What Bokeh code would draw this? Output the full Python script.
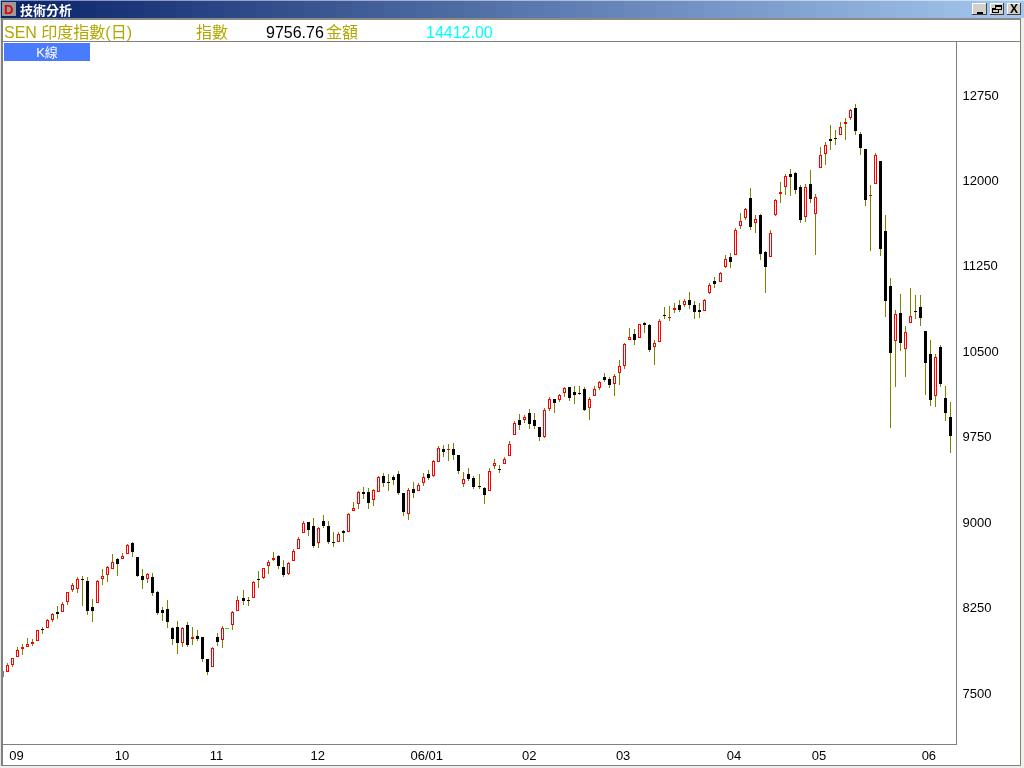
import numpy as np
from bokeh.core.properties import value
from bokeh.embed import file_html
from bokeh.layouts import column
from bokeh.models import FixedTicker, Range1d
from bokeh.plotting import figure
from bokeh.resources import INLINE

opens = [7696,7687,7749,7819,7889,7907,7933,7960,8062,8074,8144,8211,8214,8302,8407,8416,8498,8483,8255,8287,
 8504,8539,8592,8677,8674,8718,8817,8694,8527,8498,8519,8387,8229,8238,8071,8080,7936,8097,7977,8001,
 7992,7799,7725,7992,7962,8068,8094,8223,8334,8313,8336,8497,8512,8617,8670,8702,8606,8547,8661,8767,
 8907,9001,8966,8819,9010,8966,8822,8828,8922,8916,9100,9162,9264,9264,9197,9267,9402,9349,9393,9422,
 9255,9074,9291,9276,9346,9422,9408,9531,9642,9639,9642,9589,9337,9422,9387,9314,9299,9276,9495,9463,
 9507,9583,9768,9893,9899,9955,9893,9832,9750,9996,10081,10075,10136,10186,10142,10131,10169,10005,10110,10180,
 10271,10256,10215,10309,10373,10602,10651,10619,10748,10730,10540,10584,10815,10798,10865,10907,10907,10951,10907,10863,
 10857,11009,11117,11112,11240,11328,11349,11603,11673,11846,11630,11697,11372,11331,11700,11884,11946,12057,12066,11943,
 11682,11969,11708,12112,12235,12364,12370,12402,12495,12551,12636,12408,12276,11869,11972,12171,11556,11074,10594,10836,
 10523,10746,10851,10886,10678,10476,10111,10538,10090,9923]
highs = [7696,7761,7810,7904,7930,7983,7974,8056,8080,8147,8202,8264,8299,8384,8466,8521,8524,8519,8325,8489,
 8589,8615,8720,8685,8729,8808,8826,8694,8589,8551,8554,8393,8252,8317,8082,8132,8077,8123,8080,8053,
 7992,7799,7904,8027,8088,8068,8217,8352,8404,8342,8483,8571,8600,8667,8737,8708,8667,8647,8761,8869,
 9010,9001,9036,8957,9062,9010,8913,8910,8931,9080,9176,9270,9305,9299,9291,9405,9431,9422,9413,9449,
 9255,9296,9352,9343,9431,9457,9545,9668,9677,9686,9694,9589,9440,9475,9405,9422,9308,9472,9554,9501,
 9569,9709,9885,9946,9937,9990,9955,9832,9999,10098,10081,10128,10186,10186,10195,10195,10186,10098,10195,10239,
 10309,10274,10300,10423,10572,10704,10695,10736,10754,10739,10599,10783,10889,10897,10921,10951,10956,11021,10942,10924,
 10956,11100,11153,11196,11346,11363,11583,11714,11758,11934,11694,11706,11381,11565,11834,11987,12057,12101,12074,11960,
 11969,12092,11881,12293,12337,12487,12443,12513,12548,12627,12671,12425,12276,11960,12241,12171,11696,11144,10860,11003,
 10722,11056,10995,10995,10678,10599,10476,10555,10196,10055]
lows = [7638,7687,7731,7819,7837,7907,7913,7960,8018,8074,8126,8150,8208,8276,8390,8381,8264,8188,8126,8287,
 8451,8475,8592,8530,8674,8718,8697,8516,8413,8469,8355,8188,8132,8074,7924,7845,7907,7904,7924,7957,
 7775,7661,7725,7913,7898,8068,8056,8223,8272,8263,8336,8421,8500,8544,8658,8588,8518,8535,8661,8767,
 8907,8878,8773,8773,8948,8808,8781,8828,8825,8916,9100,9118,9206,9118,9144,9267,9311,9276,9323,9241,
 9056,9018,9214,9276,9320,9370,9396,9531,9574,9539,9545,9422,9308,9361,9291,9288,9159,9276,9469,9434,
 9507,9583,9768,9809,9867,9817,9820,9712,9741,9978,9958,10057,10098,10063,10037,10116,9975,9896,10110,10160,
 10230,10177,10107,10204,10344,10602,10555,10619,10660,10493,10379,10584,10783,10766,10836,10842,10889,10872,10784,10793,
 10857,11006,11056,11112,11232,11232,11349,11574,11653,11565,11539,11302,11012,11331,11691,11802,11873,11864,11881,11627,
 11635,11802,11345,12112,12135,12267,12311,12402,12355,12531,12399,12223,11775,11380,11972,11336,10801,9827,10187,10503,
 10275,10746,10784,10722,10116,10020,10011,10187,9888,9607]
closes = [7638,7743,7804,7875,7901,7927,7948,8050,8061,8138,8191,8194,8279,8384,8445,8498,8497,8223,8223,8480,
 8524,8603,8647,8636,8700,8797,8735,8530,8495,8542,8381,8205,8205,8126,7977,7942,8068,7924,7992,7977,
 7802,7687,7892,7951,8068,8068,8208,8314,8307,8312,8474,8496,8594,8647,8685,8617,8535,8638,8743,8849,
 8989,8934,8790,8945,8966,8825,8821,8893,8904,9068,9127,9261,9247,9171,9279,9393,9346,9348,9370,9258,
 9092,9279,9258,9323,9393,9387,9533,9648,9615,9640,9589,9449,9375,9378,9308,9313,9238,9446,9516,9462,
 9551,9683,9867,9855,9920,9864,9847,9750,9981,10078,10049,10113,10174,10090,10116,10130,9984,10078,10166,10227,
 10248,10204,10280,10368,10564,10622,10599,10736,10730,10511,10570,10763,10814,10799,10880,10863,10939,10907,10845,10845,
 10948,11079,11091,11185,11308,11284,11562,11641,11747,11592,11659,11354,11240,11536,11826,11899,12036,12031,11916,11653,
 11943,11837,11852,12220,12308,12349,12369,12466,12513,12618,12434,12285,11828,11870,12220,11398,10945,10485,10825,10573,
 10667,10807,10850,10793,10397,10073,10447,10213,9958,9757]

price_ticks = [7500, 8250, 9000, 9750, 10500, 11250, 12000, 12750]
month_labels = ["09", "10", "11", "12", "06/01", "02", "03", "04", "05", "06"]
month_positions = [2.79, 23.8, 42.6, 62.8, 84.5, 104.9, 123.6, 145.7, 162.6, 184.5]

OLIVE = "#808000"
GREY = "#808080"
LABEL_FONT = "Liberation Sans, Noto Sans CJK TC"
PX_X = 5.021   # pixels per trading day
PX_Y = 8.78    # index points per pixel
NUDGE = 0.5    # Bokeh's canvas draws everything half a pixel down and right

# ---- window chrome: a full-window figure behind the chart ----
chrome = figure(width=1024, height=768, output_backend="svg", toolbar_location=None,
                x_range=Range1d(NUDGE, 1024 + NUDGE), y_range=Range1d(768 + NUDGE, NUDGE),
                min_border=0, outline_line_color=None, x_axis_location=None, y_axis_location=None,
                background_fill_color="white", border_fill_color="white")
chrome.grid.visible = False
chrome.frame_align = False
chrome.styles = {"position": "fixed", "left": "0px", "top": "0px"}


def box(left, top_, right, bottom, color):
    chrome.quad(left=[left], right=[right], top=[top_], bottom=[bottom],
                fill_color=color, line_color=None)


def text(x_, y_, s, color, size="16px", style="normal", font=LABEL_FONT, align="left"):
    chrome.text(x=[x_], y=[y_], text=[s], text_color=color, text_font=value(font),
                text_font_size=size, text_font_style=style,
                text_baseline="middle", text_align=align)


left_c, right_c = np.array([10, 36, 106]), np.array([166, 202, 240])
step = 16
for k in range(0, 1024, step):
    t = k / 1024
    r, g, b = (left_c + (right_c - left_c) * t).astype(int)
    box(k, 0, k + step, 18, f"#{r:02x}{g:02x}{b:02x}")
box(0, 18, 1024, 20, "#8c8a85")
box(0, 0, 1, 768, "#D4D0C8")
box(1, 18, 3, 766, GREY)
box(1, 765, 1021, 766, GREY)
box(1020, 18, 1021, 766, GREY)
box(1021, 18, 1024, 768, "#F0EEE8")
box(0, 766, 1024, 768, "#F0EEE8")
# chart frame
box(2, 41, 1021, 42, GREY)
box(956, 41, 957, 744, GREY)
box(2, 744, 957, 745, GREY)

# icon and caption
box(2, 2, 16, 16, "#9a9a9a")
text(4, 9, "D", "#E00000", "13px", "bold")
text(20, 9, "技術分析", "white", "13px", "bold", "Noto Sans CJK TC")

# window buttons
for lft, rgt in ((972, 987), (990, 1004), (1007, 1021)):
    box(lft, 3, rgt, 15, "#404040")
    box(lft, 3, rgt - 1, 14, "white")
    box(lft + 1, 4, rgt - 1, 14, "#D4D0C8")
box(977, 12, 983, 14, "black")
box(992, 8, 999, 13, "black")
box(993, 10, 998, 12, "#D4D0C8")
box(995, 5, 1002, 10, "black")
box(996, 7, 1001, 9, "#D4D0C8")
text(1014, 9, "X", "black", "12px", "bold", "Liberation Sans", "center")

# header row
text(4, 32, "SEN 印度指數(日)", "#B0A800")
text(196, 32, "指數", "#B0A800")
text(266, 32, "9756.76", "black")
text(326, 32, "金額", "#B0A800")
text(426, 32, "14412.00", "#00FFFF")

# tab
box(4, 43, 90, 61, "#4A7BFF")
text(47, 52, "K線", "white", "13px", "normal", LABEL_FONT, "center")

# ---- the candlestick chart, transparent, on top ----
p = figure(width=1024, height=768, output_backend="svg", toolbar_location=None,
           y_axis_location="right", frame_width=953, frame_height=702,
           min_border_left=3, min_border_right=68, min_border_top=42, min_border_bottom=24,
           x_range=Range1d((3 + NUDGE - 2.51) / PX_X, (956 + NUDGE - 2.51) / PX_X),
           y_range=Range1d(7500 - (51 + NUDGE) * PX_Y, 7500 + (651 - NUDGE) * PX_Y),
           background_fill_alpha=0, border_fill_alpha=0, outline_line_color=None)
p.frame_align = False
p.styles = {"position": "fixed", "left": "0px", "top": "0px"}
p.grid.visible = False

o, h, l, c = (np.array(a, dtype=float) for a in (opens, highs, lows, closes))
snap = lambda v: 7500 + PX_Y * np.round((v - 7500) / PX_Y)
x = (np.floor(2.01 + PX_X * np.arange(len(o))) + 0.5 - 2.51) / PX_X
top = snap(np.maximum(o, c))
bot = np.minimum(snap(np.minimum(o, c)), top - PX_Y)
half = 1.5 / PX_X
up, down, flat = c > o, c < o, c == o

p.segment(x, snap(h), x, snap(l), line_color=OLIVE, line_width=1)
p.quad(left=x[down] - half, right=x[down] + half, top=top[down], bottom=bot[down],
       fill_color="black", line_color=None)
p.quad(left=x[up] - half, right=x[up] + half, top=top[up], bottom=bot[up],
       fill_color="#FF0000", line_color=None)
hollow = up & (top - bot > 2.5 * PX_Y)
p.quad(left=x[hollow] - 0.5 / PX_X, right=x[hollow] + 0.5 / PX_X,
       top=top[hollow] - PX_Y, bottom=bot[hollow] + PX_Y, fill_color="white", line_color=None)
p.quad(left=x[flat] - 2.5 / PX_X, right=x[flat] + 1.5 / PX_X, top=top[flat], bottom=bot[flat],
       fill_color="#00FF00", line_color=None)

ax = p.yaxis[0]
ax.ticker = FixedTicker(ticks=price_ticks)
ax.axis_line_color = None
ax.major_tick_line_color = None
ax.minor_tick_line_color = None
ax.major_tick_out = 0
ax.major_tick_in = 0
ax.major_label_text_font = "Liberation Sans"
ax.major_label_text_font_size = "13px"
ax.major_label_text_color = "black"
ax.major_label_standoff = 6

bx = p.xaxis[0]
bx.ticker = FixedTicker(ticks=month_positions)
bx.major_label_overrides = dict(zip(month_positions, month_labels))
bx.axis_line_color = None
bx.major_tick_line_color = None
bx.minor_tick_line_color = None
bx.major_tick_out = 0
bx.major_tick_in = 0
bx.major_label_text_font = "Liberation Sans"
bx.major_label_text_font_size = "13px"
bx.major_label_text_color = "black"
bx.major_label_standoff = 3

page = column(chrome, p)
open("out.html", "w").write(file_html(page, INLINE))
